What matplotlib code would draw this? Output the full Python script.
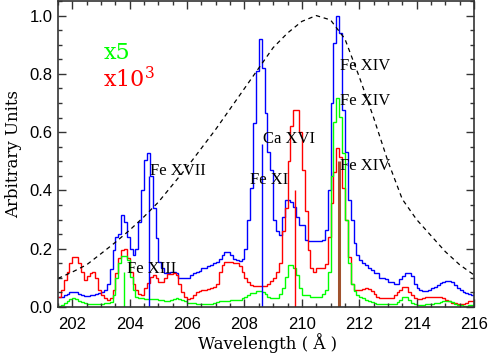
import numpy as np
import matplotlib.pyplot as plt
from matplotlib.ticker import MultipleLocator

# wavelength bins (0.1 A) from 201.5 to 216.0
wave_edges = np.round(np.arange(201.5, 216.05, 0.1), 2)

blue_spec = [0.033, 0.036, 0.040, 0.045, 0.050,
             0.052, 0.050, 0.046, 0.041, 0.038, 0.038, 0.040, 0.042, 0.045, 0.048,
             0.052, 0.060, 0.080, 0.130, 0.195, 0.240, 0.250, 0.316, 0.290, 0.240,
             0.200, 0.180, 0.200, 0.290, 0.400, 0.505, 0.527, 0.450, 0.340, 0.236,
             0.155, 0.135, 0.116, 0.116, 0.120, 0.120, 0.115, 0.100, 0.100, 0.100,
             0.100, 0.110, 0.115, 0.120, 0.125, 0.133, 0.135, 0.140, 0.144, 0.150,
             0.155, 0.165, 0.178, 0.190, 0.190, 0.178, 0.164, 0.160, 0.158, 0.165,
             0.200, 0.300, 0.410, 0.630, 0.810, 0.920, 0.820, 0.664, 0.533, 0.470,
             0.300, 0.260, 0.247, 0.310, 0.367, 0.367, 0.360, 0.344, 0.310, 0.280,
             0.280, 0.230, 0.227, 0.227, 0.227, 0.227, 0.227, 0.230, 0.264, 0.400,
             0.700, 0.905, 1.000, 0.940, 0.676, 0.533, 0.367, 0.300, 0.218, 0.178,
             0.161, 0.150, 0.144, 0.135, 0.127, 0.116, 0.116, 0.100, 0.100, 0.095,
             0.087, 0.085, 0.080, 0.080, 0.095, 0.108, 0.118, 0.118, 0.105, 0.080,
             0.065, 0.060, 0.055, 0.055, 0.058, 0.065, 0.070, 0.075, 0.082, 0.087,
             0.090, 0.090, 0.085, 0.075, 0.065, 0.058, 0.050, 0.048, 0.045, 0.042]

red_spec = [0.035, 0.058, 0.093, 0.120, 0.150,
            0.170, 0.170, 0.150, 0.120, 0.093, 0.105, 0.117, 0.120, 0.100, 0.060,
            0.040, 0.030, 0.025, 0.030, 0.058, 0.116, 0.167, 0.195, 0.200, 0.167,
            0.120, 0.080, 0.058, 0.045, 0.040, 0.065, 0.083, 0.104, 0.110, 0.100,
            0.087, 0.087, 0.100, 0.113, 0.113, 0.117, 0.110, 0.080, 0.050, 0.035,
            0.028, 0.030, 0.040, 0.050, 0.055, 0.060, 0.060, 0.062, 0.065, 0.068,
            0.080, 0.120, 0.145, 0.155, 0.155, 0.155, 0.150, 0.150, 0.140, 0.120,
            0.100, 0.085, 0.075, 0.072, 0.072, 0.072, 0.072, 0.072, 0.080, 0.090,
            0.100, 0.120, 0.150, 0.260, 0.340, 0.500, 0.620, 0.676, 0.676, 0.600,
            0.470, 0.330, 0.195, 0.133, 0.121, 0.133, 0.135, 0.135, 0.147, 0.240,
            0.356, 0.464, 0.545, 0.516, 0.410, 0.300, 0.170, 0.080, 0.060, 0.058,
            0.060, 0.062, 0.065, 0.062, 0.055, 0.045, 0.035, 0.032, 0.030, 0.030,
            0.030, 0.032, 0.040, 0.050, 0.058, 0.067, 0.067, 0.050, 0.040, 0.030,
            0.028, 0.028, 0.030, 0.033, 0.035, 0.035, 0.035, 0.035, 0.033, 0.030,
            0.025, 0.020, 0.015, 0.013, 0.012, 0.012, 0.012, 0.015, 0.020, 0.020]

green_spec = [0.003, 0.008, 0.015, 0.022, 0.028,
              0.030, 0.028, 0.022, 0.018, 0.015, 0.012, 0.010, 0.010, 0.010, 0.010,
              0.012, 0.013, 0.015, 0.018, 0.040, 0.100, 0.150, 0.175, 0.175, 0.160,
              0.104, 0.058, 0.035, 0.030, 0.030, 0.028, 0.028, 0.028, 0.028, 0.026,
              0.025, 0.024, 0.022, 0.022, 0.025, 0.028, 0.030, 0.027, 0.024, 0.020,
              0.015, 0.014, 0.013, 0.012, 0.012, 0.012, 0.012, 0.012, 0.012, 0.014,
              0.018, 0.020, 0.022, 0.022, 0.022, 0.024, 0.025, 0.025, 0.025, 0.030,
              0.035, 0.040, 0.047, 0.047, 0.056, 0.056, 0.053, 0.045, 0.035, 0.030,
              0.030, 0.030, 0.045, 0.064, 0.104, 0.144, 0.144, 0.133, 0.110, 0.064,
              0.040, 0.040, 0.040, 0.035, 0.035, 0.035, 0.035, 0.045, 0.058, 0.120,
              0.450, 0.636, 0.716, 0.653, 0.527, 0.300, 0.150, 0.080, 0.055, 0.041,
              0.035, 0.030, 0.025, 0.020, 0.016, 0.013, 0.010, 0.010, 0.010, 0.010,
              0.010, 0.010, 0.012, 0.017, 0.025, 0.033, 0.033, 0.025, 0.015, 0.010,
              0.008, 0.008, 0.008, 0.010, 0.012, 0.012, 0.013, 0.015, 0.017, 0.020,
              0.020, 0.020, 0.016, 0.012, 0.008, 0.006, 0.005, 0.005, 0.006, 0.008]

# temperature response (dashed)
resp_wave = [201.5, 202.0, 202.5, 203.0, 203.5, 204.0, 204.5, 205.0, 205.5, 206.0,
             206.5, 207.0, 207.5, 208.0, 208.5, 209.0, 209.5, 210.0, 210.5, 211.0,
             211.5, 212.0, 212.5, 213.0, 213.5, 214.0, 214.5, 215.0, 215.5, 216.0]
resp_val = [0.098, 0.120, 0.145, 0.183, 0.222, 0.264, 0.310, 0.360, 0.420, 0.480,
            0.545, 0.610, 0.680, 0.750, 0.820, 0.890, 0.940, 0.980, 1.000, 0.985,
            0.920, 0.790, 0.650, 0.500, 0.370, 0.300, 0.245, 0.190, 0.145, 0.110]

# single line positions
line_wave = [203.81, 204.67, 208.60, 209.77, 211.31]
line_top = [0.12, 0.45, 0.56, 0.40, 0.50]
line_col = ['#00ff00', '#0000ff', '#0000ff', '#ff0000', '#a0522d']
line_lw = [1.0, 1.0, 1.0, 1.0, 2.2]

ion_labels = ['Fe XVII', 'Fe XIII', 'Ca XVI', 'Fe XI', 'Fe XIV', 'Fe XIV', 'Fe XIV']
ion_x = [204.70, 203.89, 208.63, 208.18, 211.34, 211.34, 211.34]
ion_y = [0.466, 0.130, 0.576, 0.436, 0.828, 0.707, 0.485]

fig = plt.figure(figsize=(4.89, 3.58), dpi=100)
ax = fig.add_axes([58/489, 1-307/358, 416/489, 306/358])

ax.stairs(blue_spec, wave_edges, baseline=None, color='#0000ff', lw=1.0)
ax.stairs(red_spec, wave_edges, baseline=None, color='#ff0000', lw=1.0)
ax.stairs(green_spec, wave_edges, baseline=None, color='#00ff00', lw=1.0)
for w, t, c, lw in zip(line_wave, line_top, line_col, line_lw):
    ax.vlines(w, 0, t, colors=c, lw=lw)
ax.plot(resp_wave, resp_val, color='black', lw=0.9, dashes=(3.5, 3))

for s, x, y in zip(ion_labels, ion_x, ion_y):
    ax.text(x, y, s, ha='left', va='center', fontsize=12, family='Liberation Serif')

ax.text(203.08, 0.873, 'x5', color='#00ff00', fontsize=16, family='DejaVu Serif',
        ha='left', va='center')
ax.text(203.08, 0.78, r'x10$^{\mathregular{3}}$', color='#ff0000', fontsize=16,
        family='DejaVu Serif', ha='left', va='center')

ax.set_xlim(201.5, 216.0)
ax.set_ylim(0, 1.05)
ax.xaxis.set_major_locator(MultipleLocator(2))
ax.xaxis.set_minor_locator(MultipleLocator(0.5))
ax.yaxis.set_major_locator(MultipleLocator(0.2))
ax.yaxis.set_minor_locator(MultipleLocator(0.05))
ax.yaxis.set_major_formatter(plt.FormatStrFormatter('%.1f'))
ax.tick_params(which='both', direction='in', top=True, right=True, color='#333333',
               width=1.0)
ax.tick_params(which='major', length=6)
ax.tick_params(which='minor', length=3)
ax.tick_params(axis='x', pad=7)
ax.tick_params(axis='y', pad=4)
for lab in ax.get_xticklabels() + ax.get_yticklabels():
    lab.set_family('Liberation Sans')
    lab.set_fontsize(12)
for sp in ax.spines.values():
    sp.set_color('#333333')
    sp.set_linewidth(1.2)

ax.set_xlabel('Wavelength ( Å )', fontsize=12, family='DejaVu Serif')
ax.set_ylabel('Arbitrary Units', fontsize=12, family='DejaVu Serif')
ax.xaxis.set_label_coords(0.504, -0.085)
ax.yaxis.set_label_coords(-0.087, 0.5)

fig.savefig('out.png', dpi=100)
